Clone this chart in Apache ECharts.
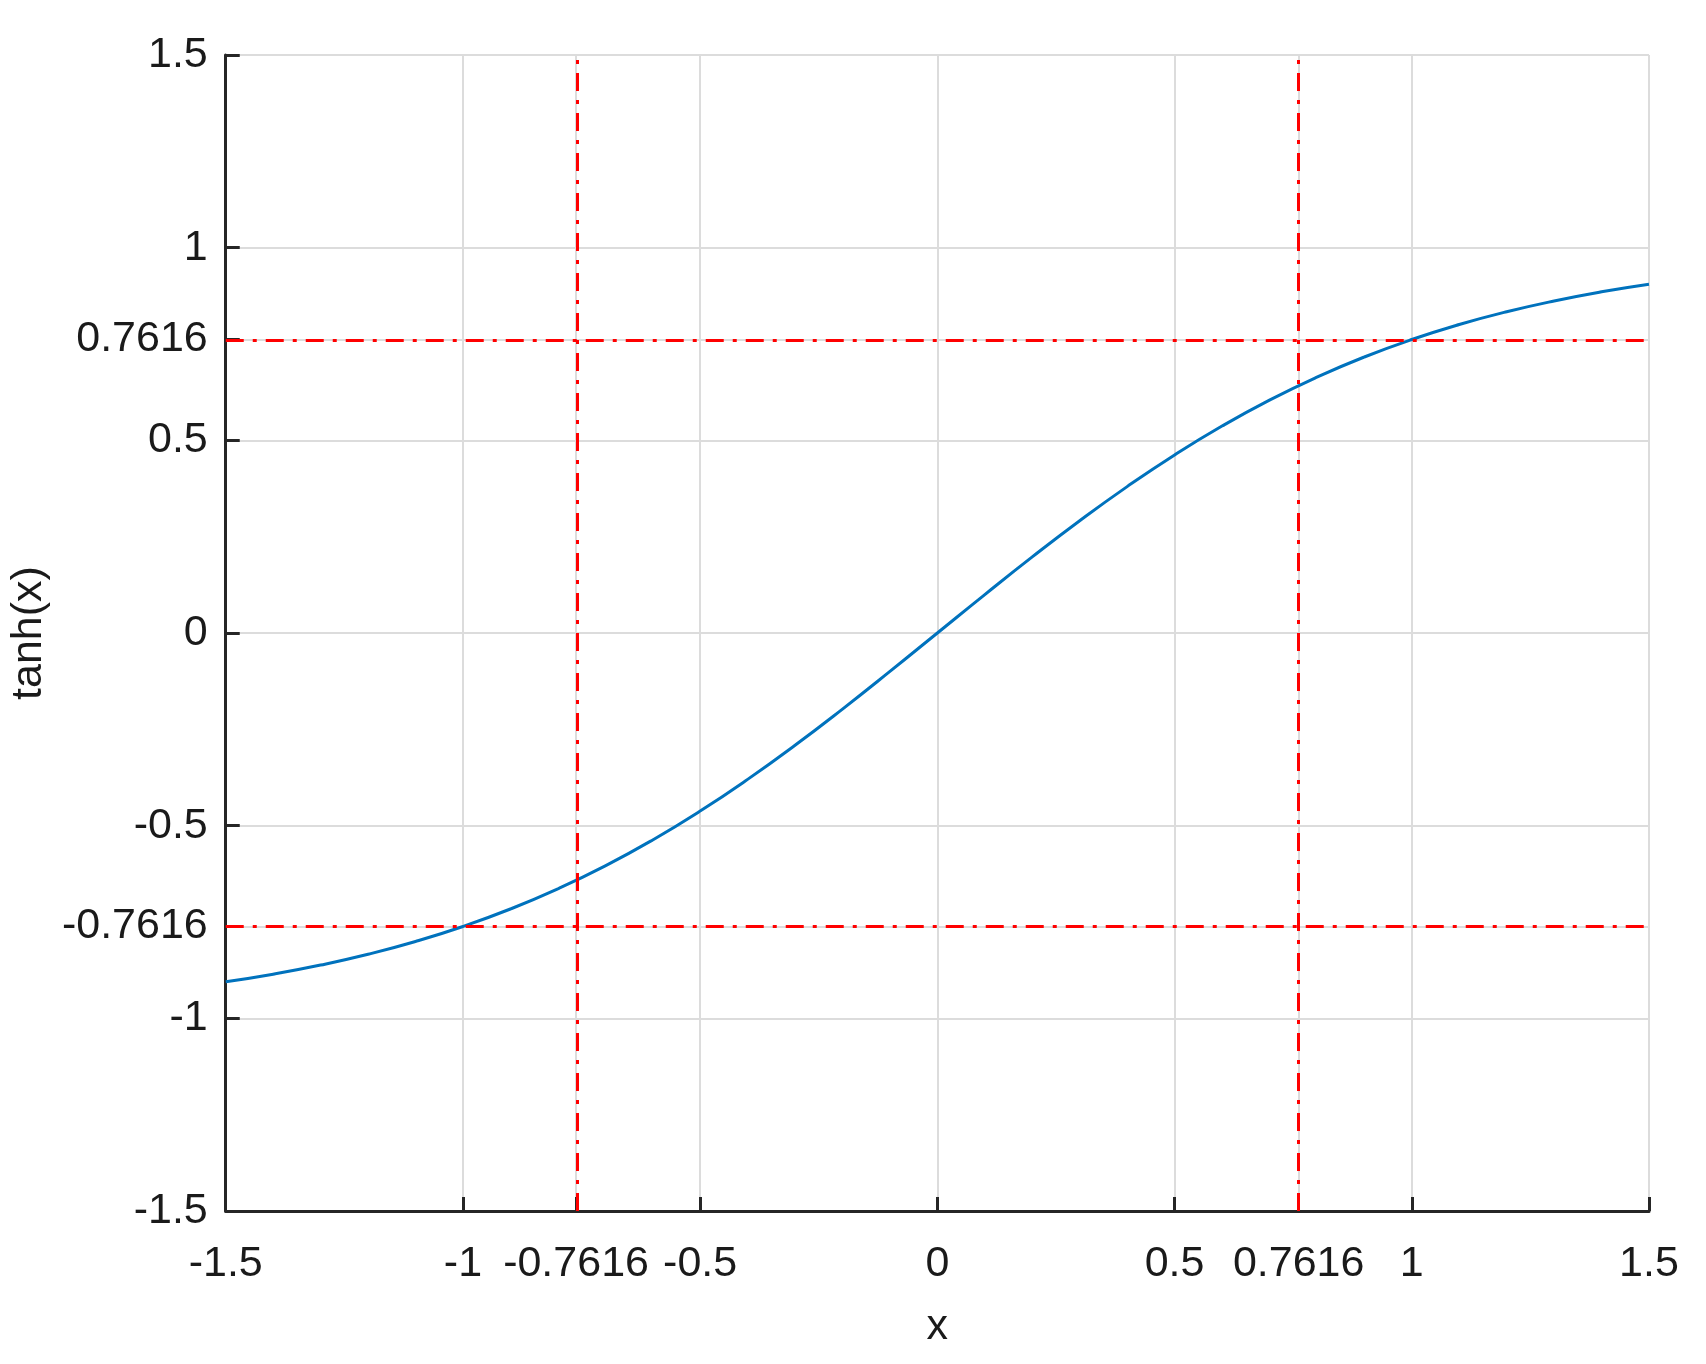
<!DOCTYPE html><html><head><meta charset="utf-8"><script src="https://cdn.jsdelivr.net/npm/echarts@6/dist/echarts.min.js"></script></head><body style="margin:0"><div id="c" style="width:1706px;height:1364px"></div><script>
const xs=[-1.5,-1.4,-1.3,-1.2,-1.1,-1.0,-0.9,-0.8,-0.7,-0.6,-0.5,-0.4,-0.3,-0.2,-0.1,0,0.1,0.2,0.3,0.4,0.5,0.6,0.7,0.8,0.9,1.0,1.1,1.2,1.3,1.4,1.5];
const ys=[-0.9051,-0.8854,-0.8617,-0.8337,-0.8005,-0.7616,-0.7163,-0.6640,-0.6044,-0.5370,-0.4621,-0.3799,-0.2913,-0.1974,-0.0997,0,0.0997,0.1974,0.2913,0.3799,0.4621,0.5370,0.6044,0.6640,0.7163,0.7616,0.8005,0.8337,0.8617,0.8854,0.9051];
const xTicks=[-1.5,-1,-0.7616,-0.5,0,0.5,0.7616,1,1.5];
const yTicks=[-1.5,-1,-0.7616,-0.5,0,0.5,0.7616,1,1.5];
const refVals=[-0.7616,0.7616];
const font={fontFamily:'Liberation Sans, Arial',fontSize:43,color:'#1a1a1a',fontWeight:500};
const ax=(ticks,name,isY)=>({type:'value',min:-1.5,max:1.5,interval:0.5,name:name,nameLocation:'middle',nameGap:isY?90:95,nameRotate:isY?90:0,nameTextStyle:font,
 axisLine:{onZero:false,lineStyle:{color:'#262626',width:3}},
 axisTick:{inside:true,length:14,customValues:ticks,lineStyle:{color:'#262626',width:3}},
 axisLabel:Object.assign({customValues:ticks,margin:isY?18:32,formatter:v=>String(+v.toFixed(4))},font),
 splitLine:{show:true,lineStyle:{color:'#dcdcdc',width:2}}});
const mk=refVals.map(v=>({xAxis:v})).concat(refVals.map(v=>({yAxis:v})));
echarts.init(document.getElementById('c')).setOption({animation:false,
 grid:{left:209,top:55,right:57,bottom:153},
 xAxis:ax(xTicks,'x',false),yAxis:ax(yTicks,'tanh(x)',true),
 series:[{type:'line',smooth:true,symbol:'none',data:xs.map((x,i)=>[x,ys[i]]),lineStyle:{color:'#0072BD',width:3},
  markLine:{silent:true,symbol:'none',label:{show:false},lineStyle:{color:'#ff0000',width:3,type:[18,9,4,9]},data:mk}}]});
</script></body></html>
